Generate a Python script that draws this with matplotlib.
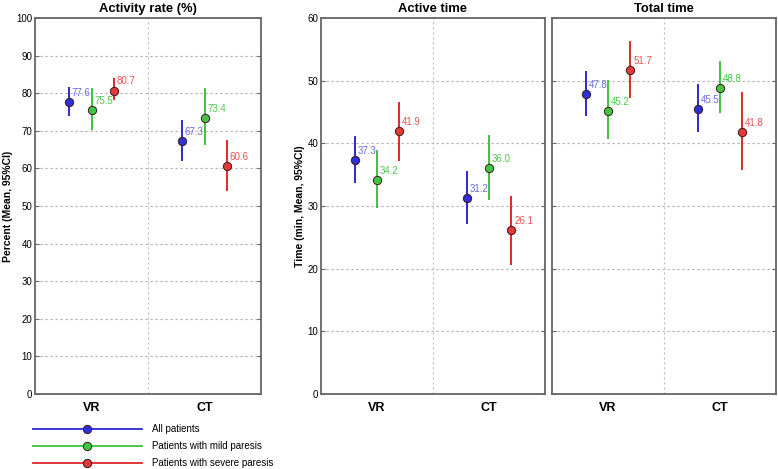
import matplotlib
matplotlib.use("Agg")
import matplotlib.pyplot as plt
from matplotlib.lines import Line2D

plt.rcParams['font.family'] = ['Liberation Sans', 'DejaVu Sans']

categories = ["VR", "CT"]
groups = ["All patients", "Patients with mild paresis", "Patients with severe paresis"]

# Activity rate (%)
act_mean = {"All": [77.6, 67.3], "Mild": [75.5, 73.4], "Severe": [80.7, 60.6]}
act_lo = {"All": [74.2, 62.2], "Mild": [70.4, 66.5], "Severe": [78.4, 54.3]}
act_hi = {"All": [81.3, 72.7], "Mild": [81.0, 81.0], "Severe": [83.7, 67.4]}

# Active time (min)
at_mean = {"All": [37.3, 31.2], "Mild": [34.2, 36.0], "Severe": [41.9, 26.1]}
at_lo = {"All": [33.9, 27.3], "Mild": [29.9, 31.1], "Severe": [37.4, 20.8]}
at_hi = {"All": [41.0, 35.4], "Mild": [38.8, 41.2], "Severe": [46.5, 31.5]}

# Total time (min)
tt_mean = {"All": [47.8, 45.5], "Mild": [45.2, 48.8], "Severe": [51.7, 41.8]}
tt_lo = {"All": [44.5, 41.9], "Mild": [40.8, 45.0], "Severe": [47.4, 35.9]}
tt_hi = {"All": [51.4, 49.3], "Mild": [49.9, 53.0], "Severe": [56.1, 48.1]}

keys = ["All", "Mild", "Severe"]
line_colors = {"All": "#2a2ad0", "Mild": "#3cc43c", "Severe": "#e02828"}
face_colors = {"All": "#3030d8", "Mild": "#44c444", "Severe": "#e23a3a"}
text_colors = {"All": "#6a6ae0", "Mild": "#4cc84c", "Severe": "#e85050"}
offsets = {"All": -0.2, "Mild": 0.0, "Severe": 0.2}
cat_pos = [0.5, 1.5]

W, H = 778, 469
fig = plt.figure(figsize=(W / 100, H / 100), dpi=100)

def rect(x0, x1, y0=18, y1=394):
    return [x0 / W, 1 - y1 / H, (x1 - x0) / W, (y1 - y0) / H]

ax1 = fig.add_axes(rect(35, 261))
ax2 = fig.add_axes(rect(321, 545))
ax3 = fig.add_axes(rect(552, 776))

frame_col = "#666666"

def draw(ax, mean, lo, hi, ylim, yticks, title, ylabel=None, show_yt=True):
    ax.set_xlim(0, 2)
    ax.set_ylim(*ylim)
    ax.set_yticks(yticks)
    ax.set_xticks(cat_pos)
    ax.set_xticklabels(categories, fontsize=9, fontweight='bold')
    ax.tick_params(axis='x', length=0, pad=6)
    ax.tick_params(axis='y', direction='in', length=3, labelsize=7, right=True,
                   color=frame_col, pad=2)
    if not show_yt:
        ax.set_yticklabels([])
    for yv in yticks[1:-1]:
        ax.axhline(yv, color='#b0b0b0', lw=0.8, ls=(0, (2, 2.5)), zorder=0)
    ax.axvline(1.0, color='#bcbcbc', lw=0.8, ls=(0, (2, 2.5)), zorder=0)
    for sp in ax.spines.values():
        sp.set_color(frame_col)
        sp.set_linewidth(1.3)
    for k in keys:
        for i in range(2):
            x = cat_pos[i] + offsets[k]
            ax.plot([x, x], [lo[k][i], hi[k][i]], color=line_colors[k], lw=1.4, zorder=2)
            ax.plot(x, mean[k][i], 'o', ms=6, mfc=face_colors[k], mec='#3a1a1a', mew=0.7, zorder=3)
            ax.annotate(f"{mean[k][i]:.1f}", (x, mean[k][i]), xytext=(2, 3),
                        textcoords='offset points', fontsize=7, color=text_colors[k],
                        ha='left', va='bottom')
    ax.set_title(title, fontsize=9.4, fontweight='bold', pad=4)
    if ylabel:
        ax.set_ylabel(ylabel, fontsize=7.5, fontweight='bold', labelpad=2)

draw(ax1, act_mean, act_lo, act_hi, (0, 100), list(range(0, 101, 10)),
     "Activity rate (%)", "Percent (Mean, 95%CI)")
draw(ax2, at_mean, at_lo, at_hi, (0, 60), list(range(0, 61, 10)),
     "Active time", "Time (min, Mean, 95%CI)")
draw(ax3, tt_mean, tt_lo, tt_hi, (0, 60), list(range(0, 61, 10)),
     "Total time", None, show_yt=False)

handles = [Line2D([0], [0], color=line_colors[k], lw=1.3, marker='o', ms=6,
                  mfc=face_colors[k], mec='#3a1a1a', mew=0.7) for k in keys]
leg = fig.legend(handles, groups, loc='upper left', bbox_to_anchor=(33 / W, 1 - 424 / H),
                 frameon=False, fontsize=7, handlelength=11.2, handletextpad=1.0,
                 labelspacing=0.72, borderaxespad=0, borderpad=0)

fig.savefig("out.png", dpi=100)
